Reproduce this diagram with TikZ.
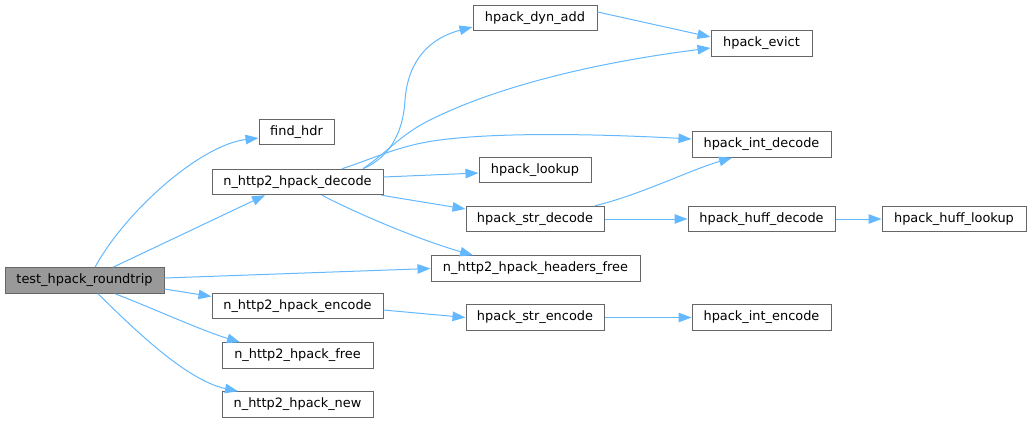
\documentclass[tikz,border=0pt]{standalone}
\usepackage{fontspec}
\setmainfont{DejaVu Sans}
\usetikzlibrary{arrows.meta}
\definecolor{edgeblue}{HTML}{63B8FF}
\definecolor{boxline}{HTML}{666666}
\definecolor{rootfill}{HTML}{999999}
\tikzset{
  fn/.style={draw=boxline, line width=1pt, fill=white, inner sep=0pt, minimum height=25.5pt,
    font=\fontsize{12.9}{15}\selectfont, text=black},
  root/.style={fn, fill=rootfill},
  call/.style={draw=edgeblue, line width=1pt, -{Triangle[length=13pt,width=9.5pt]}},
}
\begin{document}
\begin{tikzpicture}[x=1pt,y=-1pt]
\useasboundingbox (0,0) rectangle (1031,423);
% nodes
\node[root, minimum width=159pt] (trip) at (84.5,280.5) {test\_hpack\_roundtrip};
\node[fn, minimum width=75pt] (find) at (296.5,132) {find\_hdr};
\node[fn, minimum width=171pt] (dec) at (297.5,182) {n\_http2\_hpack\_decode};
\node[fn, minimum width=171pt] (enc) at (297.5,306) {n\_http2\_hpack\_encode};
\node[fn, minimum width=151pt] (free) at (297.5,355.5) {n\_http2\_hpack\_free};
\node[fn, minimum width=151pt] (new) at (297.5,404.5) {n\_http2\_hpack\_new};
\node[fn, minimum width=209pt] (hfree) at (535.5,268.5) {n\_http2\_hpack\_headers\_free};
\node[fn, minimum width=124pt] (dyn) at (535,18) {hpack\_dyn\_add};
\node[fn, minimum width=101pt] (evict) at (761.5,43.5) {hpack\_evict};
\node[fn, minimum width=139pt] (intdec) at (761.5,144.5) {hpack\_int\_decode};
\node[fn, minimum width=112pt] (lookup) at (535,170) {hpack\_lookup};
\node[fn, minimum width=138pt] (strdec) at (535,219) {hpack\_str\_decode};
\node[fn, minimum width=147pt] (huffdec) at (761.5,219) {hpack\_huff\_decode};
\node[fn, minimum width=144pt] (hufflook) at (954,219) {hpack\_huff\_lookup};
\node[fn, minimum width=138pt] (strenc) at (535,317.5) {hpack\_str\_encode};
\node[fn, minimum width=139pt] (intenc) at (761.5,317.5) {hpack\_int\_encode};
% edges from test_hpack_roundtrip
\draw[call] ([xshift=10.5pt]trip.north) .. controls (125,212) and (200,145) .. ([yshift=-6pt]find.west);
\draw[call] ([xshift=28.5pt]trip.north) -- ([xshift=-32.5pt]dec.south);
\draw[call] ([yshift=2.5pt]trip.east) -- (hfree.west);
\draw[call] ([yshift=-8.5pt]trip.east) -- ([yshift=9.5pt]enc.west);
\draw[call] ([xshift=30.5pt]trip.south) .. controls (150,307) and (200,330) .. ([xshift=-57.5pt]free.north);
\draw[call] ([xshift=13.5pt]trip.south) .. controls (130,325) and (185,380) .. ([xshift=-59.5pt]new.north);
% edges from n_http2_hpack_decode
\draw[call] ([xshift=65.5pt]dec.north) .. controls (388,158) and (403,135) .. (405,100)
  .. controls (408,60) and (430,38) .. ([yshift=-9pt]dyn.west);
\draw[call] ([xshift=65.5pt]dec.north) .. controls (390,150) and (400,135) .. (430,120)
  .. controls (500,85) and (600,62) .. ([yshift=-4.5pt]evict.west);
\draw[call] ([xshift=44.5pt]dec.north) .. controls (375,158) and (400,145) .. (440,140)
  .. controls (500,132) and (600,134) .. ([yshift=5.5pt]intdec.west);
\draw[call] ([yshift=5pt]dec.east) -- ([yshift=-3pt]lookup.west);
\draw[call] ([xshift=-2pt]dec.south east) -- ([yshift=10pt]strdec.west);
\draw[call] ([xshift=24.5pt]dec.south) .. controls (360,215) and (420,240) .. ([xshift=-62.5pt]hfree.north);
% other edges
\draw[call] ([yshift=6pt]dyn.east) -- ([yshift=6.5pt]evict.west);
\draw[call] ([xshift=60pt]strdec.north) .. controls (640,195) and (690,170) .. ([xshift=-29.5pt]intdec.south);
\draw[call] (strdec.east) -- (huffdec.west);
\draw[call] (huffdec.east) -- (hufflook.west);
\draw[call] ([yshift=-4pt]enc.east) -- (strenc.west);
\draw[call] (strenc.east) -- (intenc.west);
\end{tikzpicture}
\end{document}
